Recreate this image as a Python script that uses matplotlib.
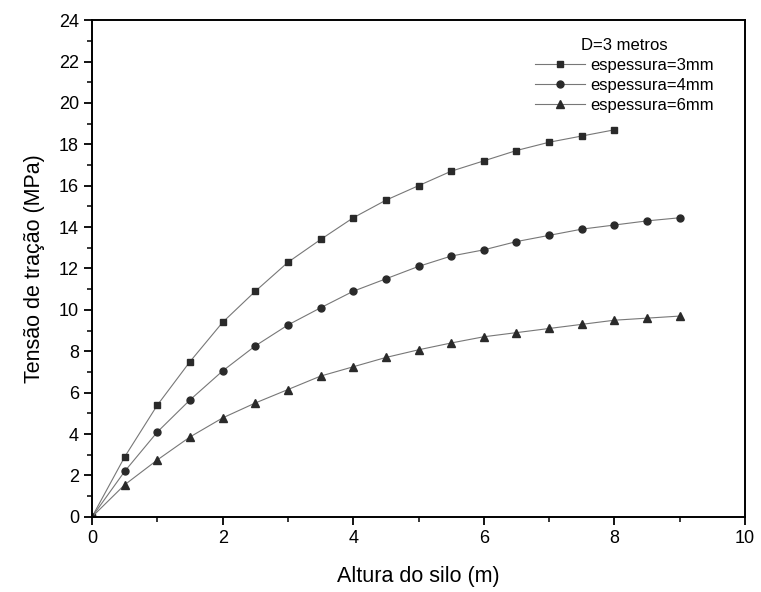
import matplotlib
matplotlib.use("Agg")
import matplotlib.pyplot as plt
from matplotlib.ticker import MultipleLocator

plt.rcParams["font.family"] = ["Liberation Sans", "DejaVu Sans"]

# Values
altura_3 = [0, 0.5, 1, 1.5, 2, 2.5, 3, 3.5, 4, 4.5, 5, 5.5, 6, 6.5, 7, 7.5, 8]
tensao_3 = [0, 2.9, 5.4, 7.5, 9.4, 10.9, 12.3, 13.4, 14.45, 15.3, 16.0, 16.7,
            17.2, 17.7, 18.1, 18.4, 18.7]

altura_46 = [0, 0.5, 1, 1.5, 2, 2.5, 3, 3.5, 4, 4.5, 5, 5.5, 6, 6.5, 7, 7.5,
             8, 8.5, 9]
tensao_4 = [0, 2.2, 4.1, 5.65, 7.05, 8.26, 9.27, 10.1, 10.9, 11.5, 12.1, 12.6,
            12.9, 13.3, 13.6, 13.9, 14.1, 14.3, 14.45]
tensao_6 = [0, 1.55, 2.75, 3.86, 4.78, 5.5, 6.15, 6.8, 7.25, 7.7, 8.07, 8.4,
            8.7, 8.9, 9.1, 9.3, 9.5, 9.6, 9.7]

fig = plt.figure(figsize=(7.61, 5.92), dpi=100)
ax = fig.add_axes([0.121, 0.127, 0.858, 0.839])

ax.plot(altura_3, tensao_3, color="#777777", lw=0.8, marker="s", ms=4.5,
        mfc="#2a2a2a", mec="#2a2a2a", label="espessura=3mm")
ax.plot(altura_46, tensao_4, color="#777777", lw=0.8, marker="o", ms=5,
        mfc="#2a2a2a", mec="#2a2a2a", label="espessura=4mm")
ax.plot(altura_46, tensao_6, color="#777777", lw=0.8, marker="^", ms=5.5,
        mfc="#2a2a2a", mec="#2a2a2a", label="espessura=6mm")

ax.set_xlim(0, 10)
ax.set_ylim(0, 24)
ax.xaxis.set_major_locator(MultipleLocator(2))
ax.xaxis.set_minor_locator(MultipleLocator(1))
ax.yaxis.set_major_locator(MultipleLocator(2))
ax.yaxis.set_minor_locator(MultipleLocator(1))
ax.tick_params(which="major", direction="out", length=6, width=1.3,
               labelsize=13)
ax.tick_params(which="minor", direction="out", length=3.5, width=1.1)
for s in ax.spines.values():
    s.set_linewidth(1.4)

ax.set_xlabel("Altura do silo (m)", fontsize=15.5, labelpad=14)
ax.set_ylabel("Tensão de tração (MPa)", fontsize=15.5, labelpad=10)

leg = ax.legend(title="D=3 metros", loc="upper right", frameon=False,
                fontsize=12, title_fontsize=12, handlelength=3.0,
                bbox_to_anchor=(0.975, 0.995), labelspacing=0.3,
                handletextpad=0.3)

fig.savefig("out.png", dpi=100)
